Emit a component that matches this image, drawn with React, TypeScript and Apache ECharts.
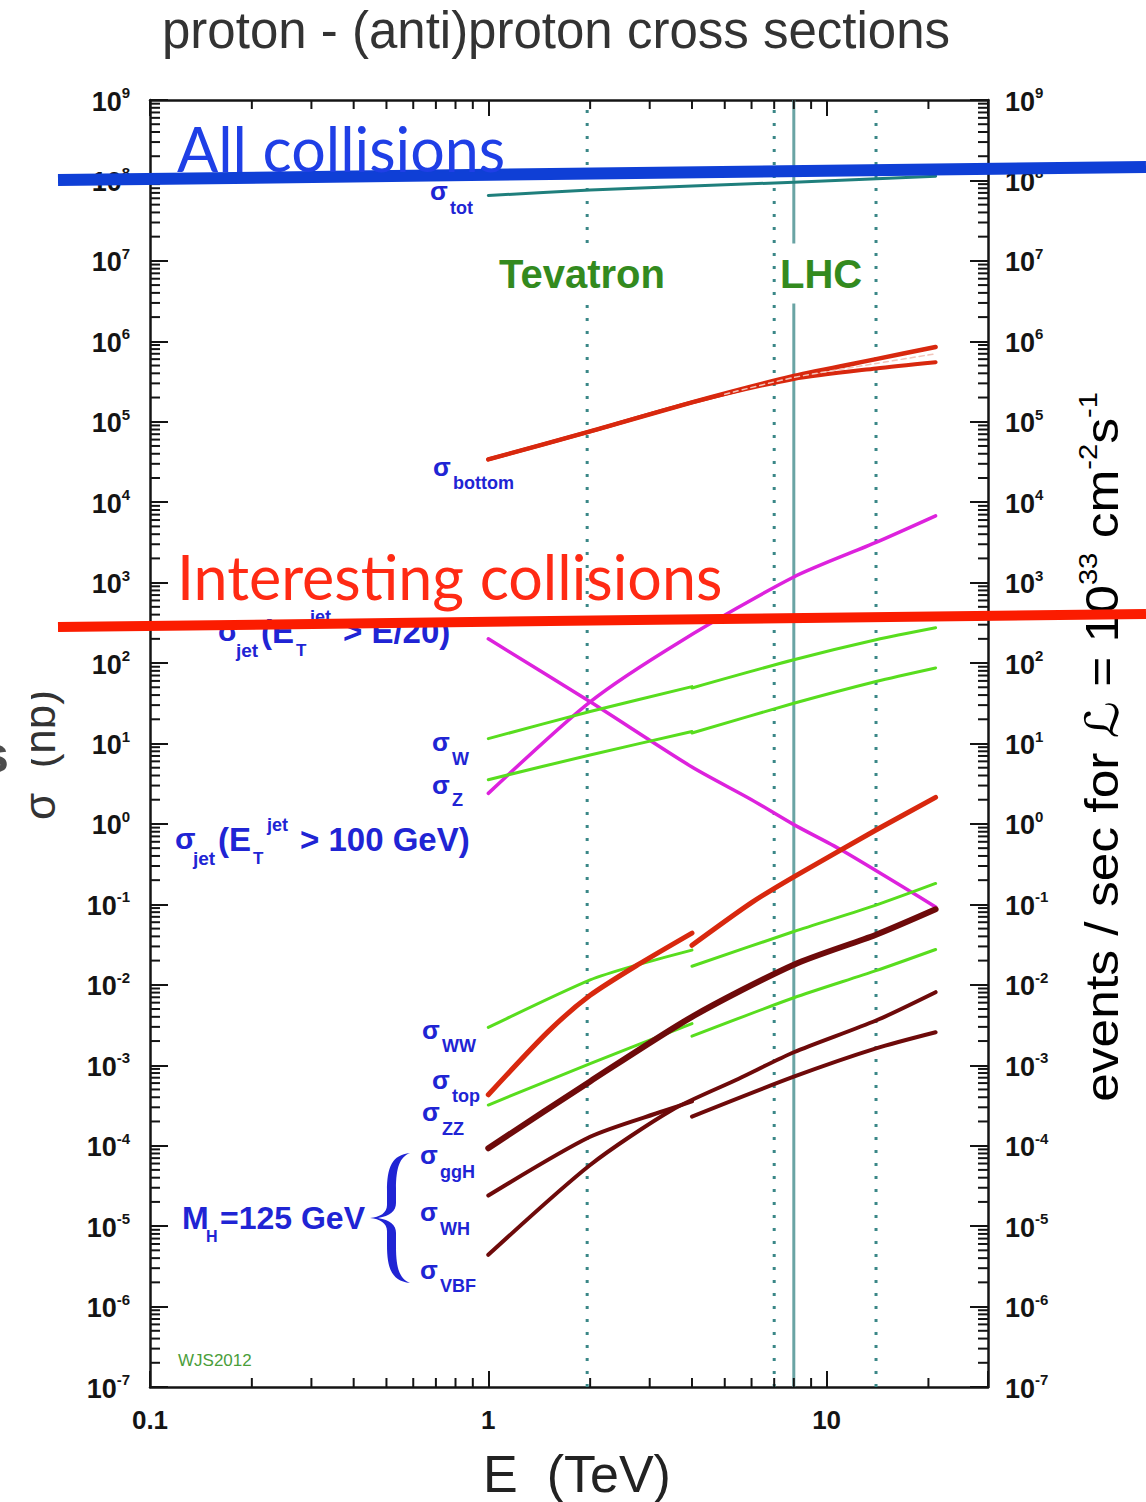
import React, { useEffect, useRef } from 'react';
import * as echarts from 'echarts';

const SANS = "'Liberation Sans', Arial, 'DejaVu Sans', sans-serif";
const HUMANIST = "Lato, 'Open Sans', 'Noto Sans', sans-serif";
const lg = (v: number) => Math.log10(v);

// ---------- texts ----------
const TITLE = 'proton - (anti)proton cross sections';
const X_NAME = 'E  (TeV)';
const Y_NAME = 'σ  (nb)';

// ---------- axis ranges (E in TeV, σ in nb, log scales) ----------
const E_MIN = 0.1;
const E_MAX = 30;
const SIGMA_EXP_MIN = -7;
const SIGMA_EXP_MAX = 9;
const xMinorTicks = [0.2, 0.3, 0.4, 0.5, 0.6, 0.7, 0.8, 0.9, 2, 3, 4, 5, 6, 7, 8, 9, 20];
const yMinorMantissas = [2, 3, 4, 5, 6, 7, 8, 9];

// ---------- collider energies (TeV) ----------
const tevatronEnergies = [1.96];
const lhcDottedEnergies = [7, 14];
const lhcSolidEnergies = [8];

// ---------- cross sections (nb) ----------
const totE = [1, 2, 8, 21];
const totSigma = [6.5e7, 7.6e7, 9.5e7, 1.13e8];

const bottomE = [1, 2, 4, 8, 14, 21];
const bottomHigh = [3.4e4, 7.6e4, 1.74e5, 3.7e5, 6.0e5, 8.5e5];
const bottomLow = [3.4e4, 7.6e4, 1.74e5, 3.4e5, 4.6e5, 5.5e5];
const bottomCentralE = [5, 8, 14, 21];
const bottomCentral = [2.2e5, 3.55e5, 5.3e5, 7.0e5];

const jetE20E = [1, 2, 4, 6, 8, 11, 21];
const jetE20 = [200, 33, 5.1, 2.0, 0.98, 0.48, 0.093];
const jet100E = [1, 2, 3.7, 8, 14, 21];
const jet100 = [2.4, 33, 186, 1175, 3160, 6760];

const tevE = [1, 2, 4];
const lhcE = [4, 8, 14, 21];
const wTev = [11.5, 25, 51];
const wLhc = [49, 110, 195, 275];
const zTev = [3.55, 7.2, 14.1];
const zLhc = [13.5, 31.6, 59, 87];

const wwTevE = [1, 2, 2.77, 4];
const wwTev = [2.95e-3, 1.15e-2, 1.78e-2, 2.7e-2];
const wwLhc = [1.7e-2, 4.6e-2, 9.8e-2, 0.182];

const topTevE = [1, 1.5, 2, 2.77, 4];
const topTev = [4.3e-4, 2.6e-3, 7.4e-3, 1.78e-2, 4.4e-2];
const topLhcE = [4, 6, 8, 14, 21];
const topLhc = [3.1e-2, 0.105, 0.22, 0.84, 2.14];

const zzTev = [3.2e-4, 1.05e-3, 3.3e-3];
const zzLhc = [2.3e-3, 6.9e-3, 1.5e-2, 2.75e-2];

const ggHE = [1, 2, 4, 8, 14, 21];
const ggH = [9.3e-5, 6.3e-4, 4.0e-3, 1.78e-2, 4.2e-2, 8.7e-2];

const whTevE = [1, 2, 3.3, 4];
const whTev = [2.4e-5, 1.29e-4, 2.7e-4, 3.55e-4];
const whLhc = [2.3e-4, 7.2e-4, 1.62e-3, 2.57e-3];

const vbfE = [1, 2, 3.5, 5.5, 8, 14, 21];
const vbf = [4.4e-6, 5.75e-5, 2.8e-4, 6.8e-4, 1.45e-3, 3.6e-3, 8.1e-3];

// ---------- colours ----------
const MAGENTA = '#dd22dd';
const GREEN = '#58dd1e';
const RED = '#d8280e';
const BROWN = '#6e0a0a';
const TEAL = '#1f7f7c';
const REF = '#3a8787';
const REF_SOLID = '#6aa4a4';
const LABEL_BLUE = '#2024d4';
const AXIS = '#141414';

const BRACE_PATH =
  'M40,0 C22,2 17,14 17,38 L17,52 C17,60 10,64 0,65 C10,66 17,70 17,78 L17,92 C17,116 22,128 40,130 C30,126 26,116 26,94 L26,80 C26,72 20,67 8,65 C20,63 26,58 26,50 L26,36 C26,14 30,4 40,0 Z';

function curve(name: string, es: number[], vals: number[], color: string, width: number, z = 5, dashed = false) {
  return {
    type: 'line',
    name,
    xAxisIndex: 0,
    yAxisIndex: 0,
    data: es.map((e, i) => [lg(e), lg(vals[i])]),
    showSymbol: false,
    symbol: 'none',
    smooth: 0.25,
    silent: true,
    z,
    lineStyle: { color, width, cap: 'round', join: 'round', type: dashed ? [5, 4] : 'solid' },
  };
}

function refLine(e: number, solid: boolean) {
  return {
    type: 'line',
    xAxisIndex: 0,
    yAxisIndex: 0,
    data: [
      [lg(e), SIGMA_EXP_MIN],
      [lg(e), SIGMA_EXP_MAX],
    ],
    showSymbol: false,
    symbol: 'none',
    silent: true,
    z: 1,
    lineStyle: solid
      ? { color: REF_SOLID, width: 3, type: 'solid' }
      : { color: REF, width: 3, type: [3, 10] },
  };
}

function minorTicks(points: number[][], orient: 'x' | 'y') {
  return {
    type: 'custom',
    xAxisIndex: 0,
    yAxisIndex: 0,
    silent: true,
    clip: false,
    z: 3,
    data: points,
    renderItem: (_p: any, api: any) => {
      const a = api.coord([api.value(0), api.value(1)]);
      const st = { stroke: AXIS, lineWidth: 2 };
      if (orient === 'x') {
        const b = api.coord([api.value(0), SIGMA_EXP_MAX]);
        return {
          type: 'group',
          children: [
            { type: 'line', shape: { x1: a[0], y1: a[1], x2: a[0], y2: a[1] - 9 }, style: st },
            { type: 'line', shape: { x1: b[0], y1: b[1], x2: b[0], y2: b[1] + 9 }, style: st },
          ],
        };
      }
      const b = api.coord([lg(E_MAX), api.value(1)]);
      return {
        type: 'group',
        children: [
          { type: 'line', shape: { x1: a[0], y1: a[1], x2: a[0] + 10, y2: a[1] }, style: st },
          { type: 'line', shape: { x1: b[0], y1: b[1], x2: b[0] - 10, y2: b[1] }, style: st },
        ],
      };
    },
  };
}

function T(x: number, baseline: number, text: string, size: number, o: any = {}) {
  const align = o.align ?? 'left';
  return {
    type: 'text',
    x,
    y: baseline - 0.31 * size,
    z: o.z ?? 50,
    silent: true,
    style: {
      text,
      fontSize: size,
      fontFamily: o.family ?? SANS,
      fontWeight: o.weight ?? 'bold',
      fill: o.color ?? LABEL_BLUE,
      align,
      textAlign: align,
      verticalAlign: 'middle',
      textVerticalAlign: 'middle',
      backgroundColor: o.bg,
      padding: o.pad,
    },
  };
}

function sigmaLabel(x: number, bl: number, sub: string, subBl: number) {
  return [T(x, bl, 'σ', 26), T(x + 20, subBl, sub, 18)];
}

function jetLabel(x: number, bl: number, tail: string) {
  return [
    T(x, bl, 'σ', 30),
    T(x + 18, bl + 16, 'jet', 19),
    T(x + 43, bl + 2, '(E', 33),
    T(x + 78, bl + 16, 'T', 17),
    T(x + 92, bl - 17, 'jet', 18),
    T(x + 125, bl + 2, tail, 33),
  ];
}

const yTickRich = {
  b: { fontSize: 27, fontWeight: 'bold', fontFamily: SANS, color: AXIS, lineHeight: 30, verticalAlign: 'bottom' },
  s: { fontSize: 15, fontWeight: 'bold', fontFamily: SANS, color: AXIS, lineHeight: 16, verticalAlign: 'top' },
};
const yTickFormatter = (v: number) => {
  const r = Math.round(v);
  return Math.abs(v - r) < 1e-6 ? `{b|10}{s|${r}}` : '';
};

function buildOption() {
  const xMinorPts = xMinorTicks.map((v) => [lg(v), SIGMA_EXP_MIN]);
  const yMinorPts: number[][] = [];
  for (let ex = SIGMA_EXP_MIN; ex < SIGMA_EXP_MAX; ex++) {
    yMinorMantissas.forEach((m) => yMinorPts.push([lg(E_MIN), ex + lg(m)]));
  }

  const series: any[] = [
    ...tevatronEnergies.map((e) => refLine(e, false)),
    ...lhcDottedEnergies.map((e) => refLine(e, false)),
    ...lhcSolidEnergies.map((e) => refLine(e, true)),
    curve('σ_tot', totE, totSigma, TEAL, 3),
    curve('σ_bottom (high)', bottomE, bottomHigh, RED, 4.5),
    curve('σ_bottom (low)', bottomE, bottomLow, RED, 4),
    curve('σ_bottom (central)', bottomCentralE, bottomCentral, '#f2c4ba', 1.5, 6, true),
    curve('σ_jet(ET>E/20)', jetE20E, jetE20, MAGENTA, 3.5),
    curve('σ_jet(ET>100 GeV)', jet100E, jet100, MAGENTA, 3.5),
    curve('σ_W Tevatron', tevE, wTev, GREEN, 3),
    curve('σ_W LHC', lhcE, wLhc, GREEN, 3),
    curve('σ_Z Tevatron', tevE, zTev, GREEN, 3),
    curve('σ_Z LHC', lhcE, zLhc, GREEN, 3),
    curve('σ_WW Tevatron', wwTevE, wwTev, GREEN, 3),
    curve('σ_WW LHC', lhcE, wwLhc, GREEN, 3),
    curve('σ_ZZ Tevatron', tevE, zzTev, GREEN, 3),
    curve('σ_ZZ LHC', lhcE, zzLhc, GREEN, 3),
    curve('σ_top Tevatron', topTevE, topTev, RED, 5),
    curve('σ_top LHC', topLhcE, topLhc, RED, 5),
    curve('σ_ggH', ggHE, ggH, BROWN, 6),
    curve('σ_WH Tevatron', whTevE, whTev, BROWN, 4),
    curve('σ_WH LHC', lhcE, whLhc, BROWN, 4),
    curve('σ_VBF', vbfE, vbf, BROWN, 4),
    minorTicks(xMinorPts, 'x'),
    minorTicks(yMinorPts, 'y'),
  ];

  const graphics: any[] = [
    // titles
    T(556, 46, TITLE, 51, { align: 'center', weight: 'normal', color: '#333333' }),
    T(577, 1490, X_NAME, 52, { align: 'center', weight: 'normal', color: '#222222' }),
    {
      type: 'text',
      x: 53 - 0.31 * 44,
      y: 755,
      rotation: Math.PI / 2,
      z: 50,
      silent: true,
      style: {
        text: Y_NAME,
        fontSize: 44,
        fontFamily: SANS,
        fill: '#333333',
        align: 'center',
        textAlign: 'center',
        verticalAlign: 'middle',
        textVerticalAlign: 'middle',
      },
    },
    { type: 'rect', z: 60, silent: true, shape: { x: 10, y: 660, width: 21, height: 118 }, style: { fill: '#ffffff' } },
    T(9, 770, 's', 52, { align: 'right', color: '#4d4d4d', z: 61 }),
    {
      type: 'text',
      x: 1114 - 0.31 * 46,
      y: 747,
      rotation: Math.PI / 2,
      scaleX: 1.12,
      z: 50,
      silent: true,
      style: {
        text: '{n|events / sec for }{l|ℒ}{n| = 10}{s|33}{n| cm}{s|-2}{n|s}{s|-1}',
        align: 'center',
        textAlign: 'center',
        verticalAlign: 'middle',
        textVerticalAlign: 'middle',
        rich: {
          n: { fontSize: 46, fontFamily: SANS, color: '#222222', lineHeight: 50, verticalAlign: 'bottom' },
          l: { fontSize: 46, fontFamily: SANS, fontStyle: 'italic', color: '#222222', lineHeight: 50, verticalAlign: 'bottom' },
          s: { fontSize: 26, fontFamily: SANS, color: '#222222', lineHeight: 26, verticalAlign: 'top' },
        },
      },
    },
    // collider labels
    T(497, 286, 'Tevatron', 40, { color: '#338a1e', bg: '#ffffff', pad: [10, 2, 10, 2] }),
    T(778, 286, 'LHC', 40, { color: '#338a1e', bg: '#ffffff', pad: [10, 2, 10, 2] }),
    // sigma labels
    ...sigmaLabel(430, 199, 'tot', 214),
    ...sigmaLabel(433, 475, 'bottom', 489),
    ...sigmaLabel(432, 750, 'W', 765),
    ...sigmaLabel(432, 793, 'Z', 806),
    ...sigmaLabel(422, 1038, 'WW', 1052),
    ...sigmaLabel(432, 1088, 'top', 1102),
    ...sigmaLabel(422, 1120, 'ZZ', 1135),
    ...sigmaLabel(420, 1163, 'ggH', 1178),
    ...sigmaLabel(420, 1220, 'WH', 1235),
    ...sigmaLabel(420, 1278, 'VBF', 1292),
    ...jetLabel(218, 640, '> E/20)'),
    ...jetLabel(175, 848, '> 100 GeV)'),
    T(182, 1228, 'M', 32),
    T(206, 1241, 'H', 16),
    T(220, 1228, '=125 GeV', 32),
    { type: 'brace', x: 370, y: 1153, z: 50, silent: true, style: { fill: LABEL_BLUE } },
    T(178, 1366, 'WJS2012', 17, { weight: 'normal', color: '#4a9e3a' }),
    // hand-drawn annotations on top
    { type: 'line', z: 100, silent: true, shape: { x1: 58, y1: 180, x2: 1146, y2: 167 }, style: { stroke: '#0f3fd6', lineWidth: 12 } },
    { type: 'line', z: 100, silent: true, shape: { x1: 58, y1: 627, x2: 1146, y2: 614 }, style: { stroke: '#fb1c00', lineWidth: 10 } },
    T(177, 167, 'All collisions', 61, { family: HUMANIST, weight: 'normal', color: '#1f3fe6', z: 100 }),
    T(177, 595, 'Interesting collisions', 61, { family: HUMANIST, weight: 'normal', color: '#ff2a14', z: 100 }),
  ];

  const axisLine = { show: true, onZero: false, lineStyle: { color: AXIS, width: 2.5 } };

  return {
    animation: false,
    backgroundColor: '#ffffff',
    grid: { left: 150, right: 158, top: 100, bottom: 115, containLabel: false },
    xAxis: [
      {
        type: 'value',
        position: 'bottom',
        min: lg(E_MIN),
        max: lg(E_MAX),
        interval: 1,
        axisLine,
        splitLine: { show: false },
        axisTick: { inside: true, length: 16, lineStyle: { color: AXIS, width: 2 } },
        axisLabel: {
          margin: 20,
          fontSize: 26,
          fontWeight: 'bold',
          fontFamily: SANS,
          color: AXIS,
          showMinLabel: true,
          formatter: (v: number) => {
            const r = Math.round(v);
            if (Math.abs(v - r) > 1e-6) return '';
            return r === -1 ? '0.1' : String(Math.pow(10, r));
          },
        },
      },
      {
        type: 'value',
        position: 'top',
        min: lg(E_MIN),
        max: lg(E_MAX),
        interval: 1,
        axisLine,
        splitLine: { show: false },
        axisTick: { inside: true, length: 16, lineStyle: { color: AXIS, width: 2 } },
        axisLabel: { show: false },
      },
    ],
    yAxis: [
      {
        type: 'value',
        position: 'left',
        min: SIGMA_EXP_MIN,
        max: SIGMA_EXP_MAX,
        interval: 1,
        axisLine,
        splitLine: { show: false },
        axisTick: { inside: true, length: 18, lineStyle: { color: AXIS, width: 2 } },
        axisLabel: { margin: 20, showMinLabel: true, showMaxLabel: true, formatter: yTickFormatter, rich: yTickRich },
      },
      {
        type: 'value',
        position: 'right',
        min: SIGMA_EXP_MIN,
        max: SIGMA_EXP_MAX,
        interval: 1,
        axisLine,
        splitLine: { show: false },
        axisTick: { inside: true, length: 18, lineStyle: { color: AXIS, width: 2 } },
        axisLabel: { margin: 17, showMinLabel: true, showMaxLabel: true, formatter: yTickFormatter, rich: yTickRich },
      },
    ],
    series,
    graphic: { elements: graphics },
  };
}

export default function App() {
  const ref = useRef<HTMLDivElement>(null);
  useEffect(() => {
    if (!ref.current) return;
    try {
      echarts.graphic.registerShape('brace', echarts.graphic.extendPath(BRACE_PATH, {}) as any);
    } catch (e) {
      // ignore
    }
    const chart = echarts.init(ref.current, null, { renderer: 'svg' });
    chart.setOption(buildOption() as any);
    return () => chart.dispose();
  }, []);
  return (
    <div
      ref={ref}
      style={{ position: 'fixed', left: 0, top: 0, width: 1146, height: 1502, background: '#ffffff' }}
    />
  );
}
